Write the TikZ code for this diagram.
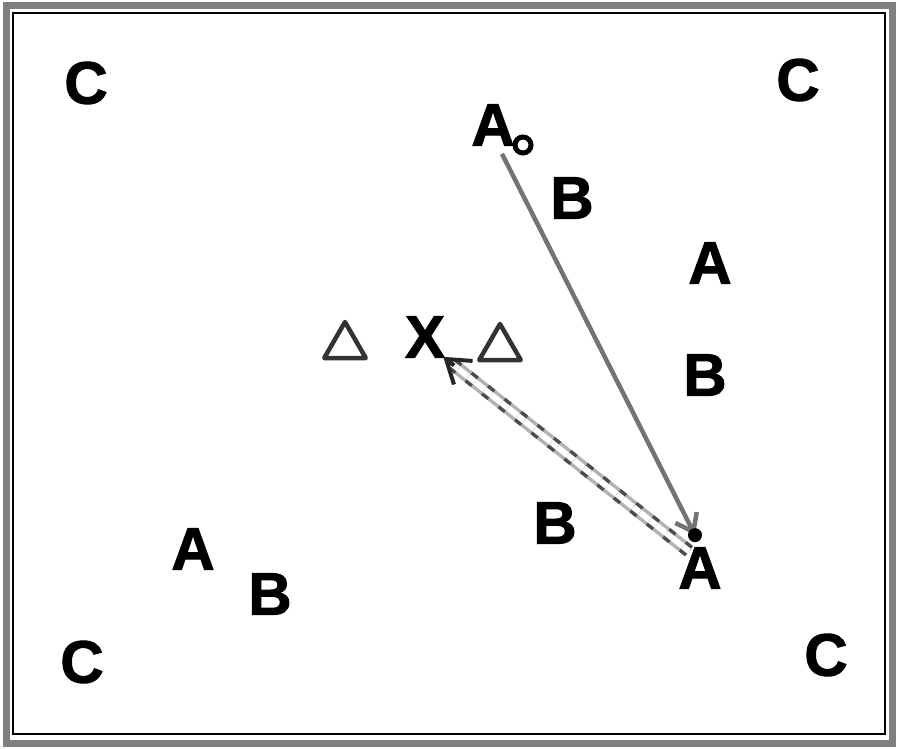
\documentclass[tikz,border=0pt]{standalone}
\usepackage{fontspec}
\setmainfont{Liberation Sans}
\newfontfamily\playerfont{Liberation Sans}[BoldFeatures={FakeBold=1.6}]
\usetikzlibrary{shapes.geometric,positioning,calc,arrows.meta}

\tikzset{
    player/.style={inner sep=0pt, font=\playerfont\fontsize{60}{64}\selectfont\bfseries},
    cone/.style={regular polygon, regular polygon sides=3, draw=black!80,
        line width=4.5pt, line join=round, minimum size=48pt, inner sep=0pt},
    ballmark/.style={circle, draw, line width=5pt, fill=white,
        minimum size=16pt, inner sep=0pt},
    pass/.style={black!55, line width=4.5pt},
    dribble/.style={black!30, line width=3.5pt, double=white, double distance=6pt},
}

\begin{document}
\begin{tikzpicture}[x=1pt,y=-1pt]
    \useasboundingbox (0,0) rectangle (900,749);

    % field border
    \draw[black!50, line width=7pt] (6,6) rectangle (892,743);
    \draw[line width=1.8pt] (13,13) rectangle (885,734);

    % corner markers
    \foreach \pos [count=\k] in {(86,83), (798,80), (82,662), (826,655)}
        \node[player] (c\k) at \pos {C};

    % players
    \foreach \pos/\txt/\name in {(493,125)/A/pa, (572,198)/B/pb, (710,263)/A/ra,
        (705,375)/B/rb, (425,337)/X/xs, (555,523)/B/db, (700,568)/A/rc,
        (193,549)/A/la, (270,594)/B/lb}
        \node[player] (\name) at \pos {\txt};

    \node[ballmark] (ball) at (523,145) {};

    % cones
    \node[cone] (t1) at (345,346) {};
    \node[cone] (t2) at (500,348) {};

    % pass
    \coordinate (rcv) at ([xshift=-5pt,yshift=12pt]rc.north);
    \draw[pass, -{Straight Barb[length=16pt,width=24pt]}]
        ([xshift=9pt,yshift=-8pt]pa.south) -- (rcv);
    \fill (rcv) circle (7pt);

    % dribble
    \coordinate (dstart) at ([xshift=-11pt,yshift=-4pt]rc.north);
    \coordinate (dtip) at ([xshift=-2pt,yshift=1pt]xs.south east);
    \draw[dribble, shorten >=10pt] (dstart) -- (dtip);
    \draw[dribble, draw=black!70, dash pattern=on 8pt off 13pt, shorten >=10pt]
        (dstart) -- (dtip);
    \draw[-{Straight Barb[length=22pt,width=30pt]}, black!85, line width=4pt]
        ($(dtip)!14pt!(dstart)$) -- (dtip);
\end{tikzpicture}
\end{document}
